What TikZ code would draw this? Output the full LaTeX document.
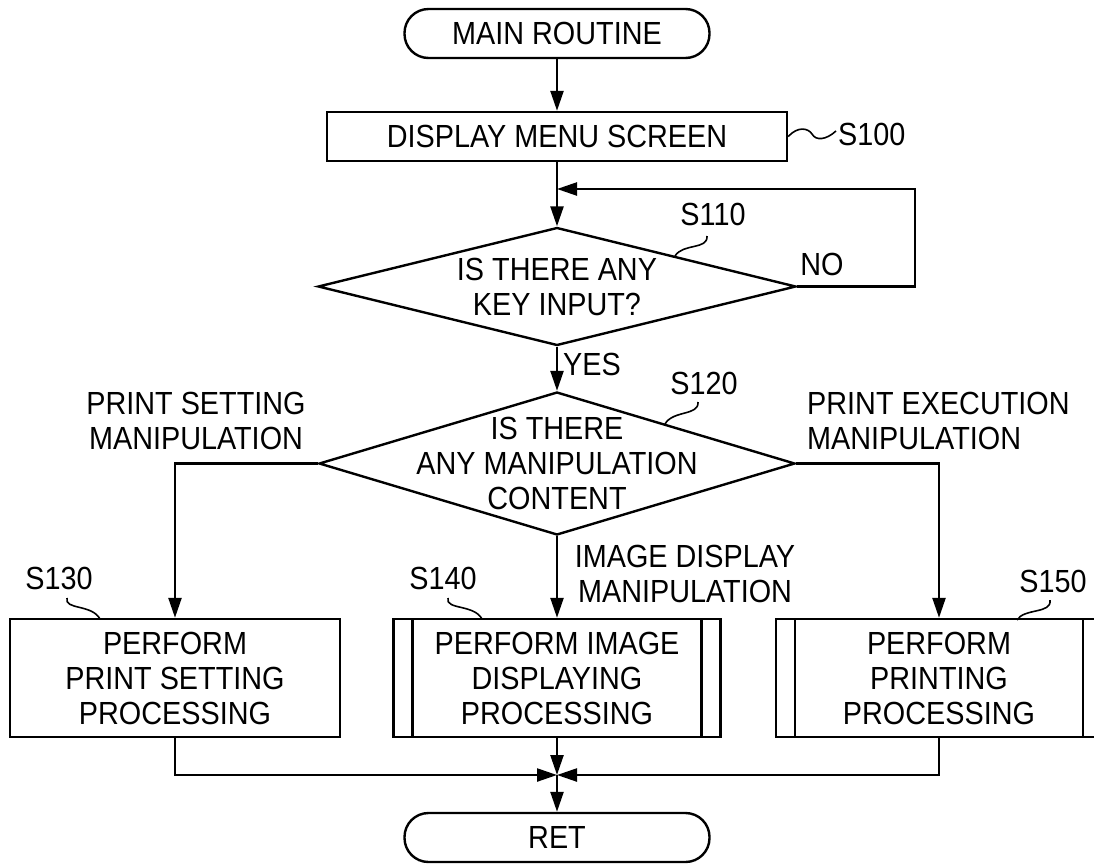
\documentclass[tikz,border=0pt]{standalone}
\usepackage{fontspec}
\setmainfont{Liberation Sans}[FakeStretch=0.9]
\usetikzlibrary{arrows.meta,shapes.geometric}
\begin{document}
\begin{tikzpicture}[x=1pt,y=-1pt,
  every node/.style={font=\fontsize{32}{35}\selectfont, inner sep=0pt},
  wire/.style={line width=2.4pt},
  flow/.style={wire, -{Triangle[length=20pt,width=13pt]}},
  lead/.style={line width=1.6pt},
  term/.style={draw, wire, rounded corners=24pt, minimum width=305pt, minimum height=49pt},
  proc/.style={draw, wire, align=center, minimum height=118pt},
  subproc/.style={proc, path picture={
      \draw[wire] ([xshift=19pt]path picture bounding box.north west) -- ([xshift=19pt]path picture bounding box.south west)
                  ([xshift=-19pt]path picture bounding box.north east) -- ([xshift=-19pt]path picture bounding box.south east);}},
  dec/.style={draw, wire, diamond},
  txt/.style={align=center}
]
\useasboundingbox (0,0) rectangle (1094,863);

% terminals and steps
\node[term] (start) at (557,33.5) {MAIN ROUTINE};
\node[draw, wire, minimum width=460pt, minimum height=49pt] (s100) at (557,136.5) {DISPLAY MENU SCREEN};
\node[dec, minimum width=478pt, minimum height=118pt,
      label={[txt]center:IS THERE ANY\\KEY INPUT?}] (d1) at (557,286.5) {};
\node[dec, minimum width=476pt, minimum height=143pt,
      label={[txt]center:IS THERE\\ANY MANIPULATION\\CONTENT}] (d2) at (557,463.5) {};
\node[proc, minimum width=330pt] (s130) at (175,678) {PERFORM\\PRINT SETTING\\PROCESSING};
\node[subproc, minimum width=327pt] (s140) at (557,678) {PERFORM IMAGE\\DISPLAYING\\PROCESSING};
\node[subproc, minimum width=326pt] (s150) at (939,678) {PERFORM\\PRINTING\\PROCESSING};
\node[term] (ret) at (557,837.5) {RET};

% step numbers
\node[anchor=west] (l100) at (838,134) {S100};
\node (l110) at (713,214) {S110};
\node (l120) at (704,383) {S120};
\node (l130) at (59,578) {S130};
\node (l140) at (443,578) {S140};
\node (l150) at (1053,581) {S150};

% branch labels
\node (no) at (822,264) {NO};
\node[anchor=west] (yes) at (563,364) {YES};
\node[txt] (bset) at (196,421) {PRINT SETTING\\MANIPULATION};
\node[align=left, anchor=west] (bexe) at (807,421) {PRINT EXECUTION\\MANIPULATION};
\node[txt] (bimg) at (685,574) {IMAGE DISPLAY\\MANIPULATION};

% leader marks
\draw[lead] (s100.east) .. controls (798,126) and (808,128) .. (812,134)
            .. controls (816,141) and (826,140) .. (836,131);
\draw[lead] (707,236) .. controls (708,250) and (683,243) .. (675,256);
\draw[lead] (698,402) .. controls (699,416) and (673,410) .. (665,424);
\draw[lead] (67,598) .. controls (64,610) and (92,604) .. (100,619);
\draw[lead] (448,598) .. controls (445,610) and (474,604) .. (482,619);
\draw[lead] (1050,600) .. controls (1052,614) and (1024,608) .. (1017,620);

% connectors
\coordinate (j1) at (557,189);
\coordinate (loopr) at (915,189);
\coordinate (j2) at (557,775);
\draw[flow] (start.south) -- (s100.north);
\draw[flow] (s100.south) -- (d1.north);
\draw[flow] (d1.east) -| (loopr) -- (j1);
\draw[flow] (d1.south) -- (d2.north);
\draw[flow] (d2.west) -| (s130.north);
\draw[flow] (d2.east) -| (s150.north);
\draw[flow] (d2.south) -- (s140.north);
\draw[flow] (s130.south) |- (j2);
\draw[flow] (s150.south) |- (j2);
\draw[flow] (s140.south) -- (j2);
\draw[flow] (j2) -- (ret.north);
\end{tikzpicture}
\end{document}
